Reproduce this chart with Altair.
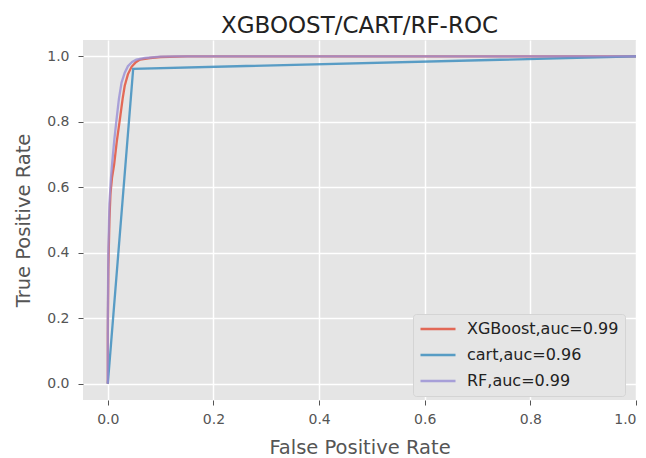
import altair as alt
import pandas as pd

series_names = ["XGBoost,auc=0.99", "cart,auc=0.96", "RF,auc=0.99"]
series_colors = ["#E24A33", "#348ABD", "#988ED5"]

xgb_fpr = [0.0, 0.0, 0.001, 0.003, 0.005, 0.008, 0.012, 0.017, 0.023, 0.028, 0.032, 0.038, 0.045, 0.053, 0.061, 0.08, 0.10, 0.15, 0.4, 0.7, 1.0]
xgb_tpr = [0.0, 0.15, 0.35, 0.50, 0.58, 0.63, 0.67, 0.74, 0.81, 0.87, 0.91, 0.945, 0.968, 0.982, 0.990, 0.995, 0.998, 1.0, 1.0, 1.0, 1.0]

cart_fpr = [0.0, 0.048, 1.0]
cart_tpr = [0.0, 0.962, 1.0]

rf_fpr = [0.0, 0.0, 0.001, 0.003, 0.006, 0.008, 0.012, 0.016, 0.021, 0.026, 0.032, 0.038, 0.046, 0.054, 0.07, 0.10, 0.13, 0.4, 0.7, 1.0]
rf_tpr = [0.0, 0.20, 0.40, 0.55, 0.63, 0.67, 0.74, 0.80, 0.87, 0.92, 0.95, 0.97, 0.983, 0.990, 0.995, 0.999, 1.0, 1.0, 1.0, 1.0]

tick_values = [0.0, 0.2, 0.4, 0.6, 0.8, 1.0]

rows = []
for name, fx, fy in zip(series_names, [xgb_fpr, cart_fpr, rf_fpr], [xgb_tpr, cart_tpr, rf_tpr]):
    for i, (a, b) in enumerate(zip(fx, fy)):
        rows.append({"model": name, "fpr": a, "tpr": b, "idx": i})
df = pd.DataFrame(rows)

FONT = "DejaVu Sans"

x_enc = alt.X("fpr:Q", title="False Positive Rate",
              scale=alt.Scale(domain=[-0.047, 1.0], nice=False, zero=False),
              axis=alt.Axis(values=tick_values, format=".1f"))
y_enc = alt.Y("tpr:Q", title="True Positive Rate",
              scale=alt.Scale(domain=[-0.05, 1.05], nice=False, zero=False),
              axis=alt.Axis(values=tick_values, format=".1f"))
color_enc = alt.Color("model:N",
                      scale=alt.Scale(domain=series_names, range=series_colors),
                      legend=alt.Legend(title=None, orient="none", legendX=330, legendY=274,
                                        symbolType="stroke", symbolSize=1225, symbolStrokeWidth=2.5,
                                        symbolOpacity=0.8,
                                        labelFontSize=16, labelFont=FONT, labelColor="#222222",
                                        labelOffset=10, clipHeight=18, rowPadding=8,
                                        padding=6, fillColor="#E5E5E5", strokeColor="#D4D4D4",
                                        cornerRadius=3, labelLimit=300))

layers = []
for name in series_names:
    layers.append(
        alt.Chart(df).transform_filter(alt.datum.model == name).mark_line(strokeWidth=2.3, opacity=0.8).encode(
            x=x_enc, y=y_enc, color=color_enc, order=alt.Order("idx:Q")
        )
    )

chart = alt.layer(*layers).properties(
    width=553, height=360,
    title=alt.TitleParams("XGBOOST/CART/RF-ROC", fontSize=23, font=FONT, fontWeight="normal",
                          color="#222222", anchor="middle", offset=2),
    autosize=alt.AutoSizeParams(type="none"),
    padding={"left": 83, "top": 40, "right": 10, "bottom": 58},
).configure_view(
    fill="#E5E5E5", stroke=None
).configure_axis(
    grid=True, gridColor="#FFFFFF", gridWidth=1.5, domain=False,
    tickColor="#555555", tickSize=5, tickWidth=1,
    labelFont=FONT, labelFontSize=14, labelColor="#555555",
    titleFont=FONT, titleFontSize=19.5, titleColor="#555555", titleFontWeight="normal",
).configure_axisX(
    labelPadding=7, titlePadding=12
).configure_axisY(
    labelPadding=9, titlePadding=13
)

chart.save("out.html", embed_options={"renderer": "svg", "actions": False})
